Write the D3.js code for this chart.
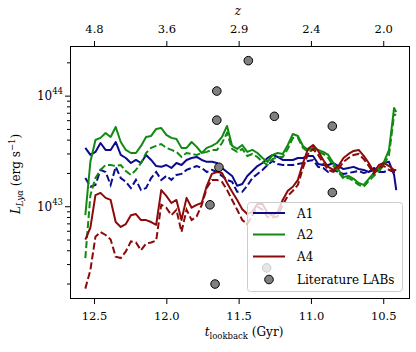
<!DOCTYPE html>
<html>
<head>
<meta charset="utf-8">
<script src="https://cdn.jsdelivr.net/npm/d3@7"></script>
<style>
  body { margin: 0; background: #fff; }
  svg text { font-family: "DejaVu Serif", serif; fill: #000; }
</style>
</head>
<body>
<div id="chart"></div>
<script>
// lookback time (Gyr), shared by all runs
const tGyr = [12.56, 12.525, 12.49, 12.455, 12.42, 12.385, 12.35, 12.315, 12.28, 12.245,
  12.21, 12.175, 12.14, 12.105, 12.07, 12.035, 12.0, 11.965, 11.93, 11.895,
  11.86, 11.825, 11.79, 11.755, 11.72, 11.685, 11.65, 11.615, 11.58, 11.545,
  11.51, 11.475, 11.44, 11.405, 11.37, 11.335, 11.3, 11.265, 11.23, 11.195,
  11.16, 11.125, 11.09, 11.055, 11.02, 10.985, 10.95, 10.915, 10.88, 10.845,
  10.81, 10.775, 10.74, 10.705, 10.67, 10.635, 10.6, 10.565, 10.53, 10.495,
  10.46, 10.425, 10.41];

// L_Lya in units of 1e43 erg/s
const a1Solid = [3.37, 2.91, 3.10, 3.73, 3.23, 3.23, 3.81, 2.91, 2.73, 2.46,
  2.62, 2.46, 2.91, 2.62, 2.31, 2.27, 2.36, 2.22, 2.46, 2.36,
  2.62, 2.73, 2.79, 2.62, 2.52, 2.52, 2.46, 2.22, 2.04, 1.88,
  1.53, 1.59, 1.88, 2.08, 2.31, 2.46, 2.73, 2.91, 2.79, 2.62,
  2.62, 2.62, 2.73, 2.73, 2.85, 2.85, 2.41, 2.36, 2.36, 2.46,
  2.31, 2.17, 2.22, 2.27, 2.17, 2.13, 2.04, 2.22, 2.08, 2.46,
  2.52, 1.92, 1.40];
const a1Dash = [1.80, 1.50, 1.56, 2.13, 2.04, 1.56, 2.27, 1.80, 1.66, 1.46,
  1.73, 1.40, 1.46, 1.80, 2.04, 1.73, 1.88, 1.73, 1.92, 1.96,
  2.13, 2.22, 2.31, 2.22, 2.04, 2.13, 2.04, 1.88, 1.73, 1.66,
  1.35, 1.35, 1.53, 1.80, 1.96, 2.13, 2.36, 2.57, 2.41, 2.36,
  2.36, 2.36, 2.41, 2.46, 2.57, 2.62, 2.27, 2.22, 2.04, 2.13,
  2.04, 1.96, 2.00, 2.04, 2.08, 2.00, 2.04, 2.13, 2.04, 2.04,
  2.13, 2.04, 2.04];
const a2Solid = [0.83, 2.52, 3.97, 4.15, 4.60, 4.23, 5.21, 3.81, 3.23, 3.03,
  3.03, 3.51, 4.23, 4.32, 5.00, 5.10, 4.41, 4.15, 4.06, 3.37,
  3.37, 3.81, 3.44, 3.03, 3.37, 3.51, 3.73, 4.23, 5.32, 3.51,
  3.30, 3.58, 3.10, 3.23, 3.03, 2.73, 2.52, 2.91, 3.03, 2.97,
  3.58, 4.50, 4.32, 3.51, 3.23, 3.37, 3.23, 3.10, 2.91, 2.46,
  2.13, 1.84, 1.88, 1.77, 1.62, 1.56, 1.77, 2.00, 2.22, 2.52,
  3.23, 7.74, 7.12];
const a2Dash = [0.34, 1.26, 1.80, 2.13, 2.36, 2.36, 2.31, 2.36, 2.08, 1.92,
  2.13, 2.46, 3.03, 3.37, 3.51, 3.65, 3.37, 3.23, 3.10, 2.79,
  3.03, 2.97, 2.91, 3.03, 3.10, 3.23, 3.23, 3.73, 4.60, 3.30,
  3.10, 3.30, 2.85, 2.97, 2.79, 2.52, 2.36, 2.67, 2.79, 2.79,
  3.30, 4.15, 4.15, 3.37, 3.10, 3.23, 3.10, 2.97, 2.73, 2.31,
  2.04, 1.77, 1.80, 1.69, 1.56, 1.50, 1.69, 1.88, 2.08, 2.36,
  2.91, 6.70, 6.70];
const a4Solid = [0.50, 0.64, 1.26, 1.32, 1.19, 1.14, 0.72, 0.65, 0.69, 0.83,
  0.85, 0.75, 0.75, 0.72, 0.68, 1.40, 1.24, 1.07, 1.14, 0.75,
  1.19, 0.97, 1.03, 1.07, 1.53, 1.96, 2.04, 2.00, 1.62, 1.35,
  1.14, 0.94, 0.85, 0.89, 1.05, 1.05, 0.87, 0.82, 0.89, 1.14,
  1.38, 1.50, 1.73, 2.46, 3.30, 3.58, 3.16, 2.62, 2.27, 2.13,
  2.31, 2.73, 2.97, 3.16, 3.23, 2.85, 2.46, 2.04, 2.36, 2.46,
  2.31, 2.13, 2.13];
const a4Dash = [0.18, 0.265, 0.53, 0.585, 0.55, 0.50, 0.35, 0.34, 0.39, 0.48,
  0.47, 0.40, 0.46, 0.47, 0.49, 1.03, 0.97, 0.83, 0.93, 0.585,
  0.93, 0.75, 0.81, 1.03, 1.46, 1.73, 1.73, 1.66, 1.40, 1.14,
  0.93, 0.75, 0.69, 0.83, 0.99, 0.93, 0.80, 0.79, 0.81, 1.03,
  1.24, 1.38, 1.56, 2.22, 2.97, 3.30, 2.91, 2.46, 2.13, 2.04,
  2.17, 2.52, 2.73, 2.91, 2.97, 2.67, 2.31, 1.96, 2.22, 2.31,
  2.13, 2.04, 2.04];

// literature Lya blobs
const litT = [11.433, 11.651, 11.651, 11.253, 10.852, 10.852, 11.636, 11.698, 11.663, 11.306];
const litL = [20.7, 11.0, 6.0, 6.5, 5.3, 1.33, 2.25, 1.03, 0.198, 0.277];

const tTicks = [12.5, 12.0, 11.5, 11.0, 10.5];
const zLabels = ["4.8", "3.6", "2.9", "2.4", "2.0"];
const yMajor = [1e43, 1e44];
const yExp = ["43", "44"];

const width = 416, height = 352;
const pLeft = 70, pRight = 410, pTop = 46, pBottom = 299;

const svg = d3.select("#chart").append("svg")
  .attr("width", width)
  .attr("height", height);

const x = d3.scaleLinear().domain([12.666, 10.315]).range([pLeft, pRight]);
const y = d3.scaleLog().domain([1.45e42, 2.81e44]).range([pBottom, pTop]);

// runs
const runs = [
  { name: "A1", color: "#0b0b8c", solid: a1Solid, dash: a1Dash },
  { name: "A2", color: "#118a11", solid: a2Solid, dash: a2Dash },
  { name: "A4", color: "#8b0a0a", solid: a4Solid, dash: a4Dash }
];

const line = d3.line()
  .x(d => x(d[0]))
  .y(d => y(d[1] * 1e43));

runs.forEach(r => {
  svg.append("path")
    .datum(tGyr.map((t, i) => [t, r.solid[i]]))
    .attr("d", line)
    .attr("fill", "none")
    .attr("stroke", r.color)
    .attr("stroke-width", 2)
    .attr("stroke-linejoin", "round");
  svg.append("path")
    .datum(tGyr.map((t, i) => [t, r.dash[i]]))
    .attr("d", line)
    .attr("fill", "none")
    .attr("stroke", r.color)
    .attr("stroke-width", 2)
    .attr("stroke-dasharray", "7,3");
});

// literature points
svg.selectAll(".lit")
  .data(litT.map((t, i) => [t, litL[i]]))
  .enter()
  .append("circle")
  .attr("class", "lit")
  .attr("cx", d => x(d[0]))
  .attr("cy", d => y(d[1] * 1e43))
  .attr("r", 4.3)
  .attr("fill", "#808080")
  .attr("stroke", "#000")
  .attr("stroke-width", 1);

// axes
svg.append("g")
  .attr("transform", `translate(0,${pBottom})`)
  .call(d3.axisBottom(x).tickValues(tTicks).tickFormat(d3.format(".1f"))
    .tickSize(5).tickPadding(8).tickSizeOuter(0));

svg.append("g")
  .attr("transform", `translate(0,${pTop})`)
  .call(d3.axisTop(x).tickValues(tTicks).tickFormat((d, i) => zLabels[i])
    .tickSize(5).tickPadding(8).tickSizeOuter(0));

const yMinor = [];
[1e42, 1e43, 1e44].forEach(dec => {
  for (let m = 2; m <= 9; m++) {
    const v = m * dec;
    if (v > y.domain()[0] && v < y.domain()[1]) yMinor.push(v);
  }
});

svg.append("g")
  .attr("transform", `translate(${pLeft},0)`)
  .call(d3.axisLeft(y).tickValues(yMajor).tickFormat("").tickSize(5).tickSizeOuter(0));
svg.append("g")
  .attr("transform", `translate(${pLeft},0)`)
  .call(d3.axisLeft(y).tickValues(yMinor).tickFormat("").tickSize(3).tickSizeOuter(0));

svg.selectAll(".domain").remove();
svg.selectAll(".tick line").attr("stroke", "#000").attr("stroke-width", 1);
svg.selectAll(".tick text").style("font-size", "11.5px").style("font-family", "DejaVu Serif");

// y tick labels 10^n
yMajor.forEach((v, i) => {
  const t = svg.append("text")
    .attr("x", pLeft - 7)
    .attr("y", y(v) + 4.5)
    .attr("text-anchor", "end")
    .style("font-size", "12px");
  t.append("tspan").text("10");
  t.append("tspan").attr("dy", -6).style("font-size", "8.5px").text(yExp[i]);
});

// frame
svg.append("rect")
  .attr("x", pLeft + 0.5)
  .attr("y", pTop + 0.5)
  .attr("width", pRight - pLeft - 1)
  .attr("height", pBottom - pTop - 1)
  .attr("fill", "none")
  .attr("stroke", "#000")
  .attr("stroke-width", 1);

// axis labels
svg.append("text")
  .attr("x", 238)
  .attr("y", 15)
  .attr("text-anchor", "middle")
  .style("font-size", "12px")
  .style("font-style", "italic")
  .text("z");

const xl = svg.append("text")
  .attr("x", 244)
  .attr("y", 336)
  .attr("text-anchor", "middle")
  .style("font-size", "12px");
xl.append("tspan").style("font-style", "italic").text("t");
xl.append("tspan").attr("dy", 3).style("font-size", "8.5px").text("lookback");
xl.append("tspan").attr("dy", -3).text(" (Gyr)");

const yl = svg.append("text")
  .attr("transform", "translate(20,174) rotate(-90)")
  .attr("text-anchor", "middle")
  .style("font-size", "12px");
yl.append("tspan").style("font-style", "italic").text("L");
yl.append("tspan").attr("dy", 3).style("font-size", "8.5px").style("font-style", "italic").text("Lyα");
yl.append("tspan").attr("dy", -3).text(" (erg s");
yl.append("tspan").attr("dy", -5).style("font-size", "8.5px").text("−1");
yl.append("tspan").attr("dy", 5).text(")");

// legend
const lg = svg.append("g");
lg.append("rect")
  .attr("x", 247.5).attr("y", 202.5)
  .attr("width", 155).attr("height", 89)
  .attr("rx", 3)
  .attr("fill", "#fff").attr("fill-opacity", 0.8)
  .attr("stroke", "#cccccc");

const legY = [213, 234.5, 256.5];
runs.forEach((r, i) => {
  lg.append("line")
    .attr("x1", 253).attr("x2", 285)
    .attr("y1", legY[i]).attr("y2", legY[i])
    .attr("stroke", r.color).attr("stroke-width", 2);
  lg.append("text")
    .attr("x", 297).attr("y", legY[i] + 4.5)
    .style("font-size", "12px")
    .text(r.name);
});
lg.append("circle")
  .attr("cx", 269).attr("cy", 279.5).attr("r", 4.3)
  .attr("fill", "#808080").attr("stroke", "#000");
lg.append("text")
  .attr("x", 297).attr("y", 284)
  .style("font-size", "12px")
  .text("Literature LABs");
</script>
</body>
</html>
